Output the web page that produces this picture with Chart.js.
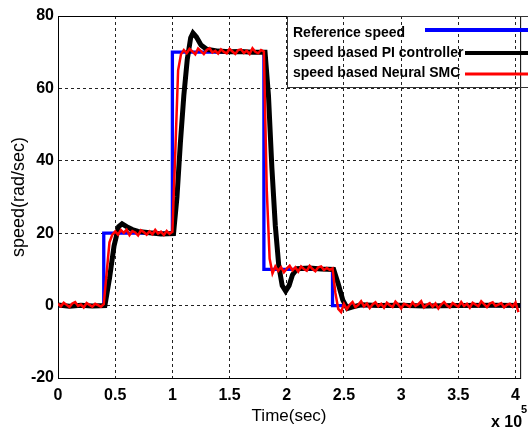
<!DOCTYPE html>
<html>
<head>
<meta charset="utf-8">
<script src="https://cdn.jsdelivr.net/npm/chart.js@4.4.1/dist/chart.umd.min.js"></script>
<style>
  html, body { margin: 0; padding: 0; background: #fff; }
  #wrap { width: 528px; height: 435px; }
</style>
</head>
<body>
<div id="wrap"><canvas id="myChart" width="528" height="435"></canvas></div>
<script>
  // tick labels
  const xTicks = [0, 0.5, 1, 1.5, 2, 2.5, 3, 3.5, 4];
  const yTicks = [-20, 0, 20, 40, 60, 80];

  // reference speed (step profile)
  const refTime = [0, 0.4, 0.4, 1.0, 1.0, 1.8, 1.8, 2.4, 2.4, 4.1];
  const refSpeed = [0, 0, 20, 20, 70, 70, 10, 10, 0, 0];

  // PI controller response
  const piTime = [0, 0.1, 0.2, 0.3, 0.41, 0.45, 0.49, 0.53, 0.56, 0.6, 0.65, 0.7, 0.8, 0.9, 1.01,
    1.04, 1.07, 1.1, 1.13, 1.16, 1.18, 1.21, 1.25, 1.3, 1.4, 1.5, 1.6, 1.7, 1.81,
    1.84, 1.87, 1.9, 1.93, 1.96, 1.99, 2.02, 2.05, 2.09, 2.2, 2.3, 2.41,
    2.45, 2.49, 2.53, 2.57, 2.65, 2.8, 3.0, 3.2, 3.5, 3.8, 4.1];
  const piSpeed = [0.2, -0.2, 0.1, -0.1, 0, 7.5, 16.5, 21.8, 22.6, 21.8, 21, 20.5, 20.1, 19.8, 19.9,
    30, 45, 58, 68, 74, 75.3, 74.2, 72, 70.8, 70.3, 70.1, 70.2, 70, 70,
    58, 38, 22, 11, 5.5, 4, 5.5, 8.5, 10.2, 10.4, 10.1, 10,
    6, 1.5, -0.8, -0.4, 0.2, 0, 0.1, -0.1, 0, 0.1, 0];

  // Neural SMC response, sampled every 0.025
  const smcStep = 0.025;
  const smcSpeed = [
    0.5, -0.2, 0.8, 0.2, -0.4, 0.6, 1.0, -0.1, 0.3, -0.5, 0.7, 0.2, -0.3, 0.5, 0.1, -0.3,
    0.4, 9, 17.5, 19.6, 20.5,
    19.6, 20.9, 20.1, 21.0, 19.5, 20.6, 20.2, 19.4, 20.8, 20.3, 19.6, 20.5, 19.7, 20.9, 19.9, 20.4, 19.5, 20.6, 19.8,
    20.4,
    42, 65, 69.4, 70.6, 69.7, 70.9, 70.2, 69.4, 71.0, 70.3, 69.5, 70.6, 71.1, 69.9, 70.4, 69.6,
    70.8, 70.1, 69.7, 70.9, 70.2, 69.5, 70.6, 70.8, 69.8, 70.4, 69.5, 71.1, 70.1, 69.7, 70.6,
    70.2,
    32, 13, 8.9, 10.8, 9.6, 10.6, 9.2, 10.2, 11.0, 9.7, 10.6, 9.4, 10.8, 10.1, 9.6, 11.0,
    10.1, 9.5, 10.6, 10.8, 9.8, 10.4, 9.9,
    10.3,
    3.5, -0.9, -1.8, 0.5, -1.0, 0.2, 1.0, -0.4, 0.2, 1.2,
    -0.2, 0.6, -0.7, 0.3, 0.9, -0.2, 0.5, -0.6, 0.8, 0.1,
    -0.4, 1.1, 0.3, -0.8, 0.5, 0.2, -0.3, 0.9, -0.1, 0.4,
    1.2, -0.5, 0.2, 0.7, -0.3, 0.6, -0.8, 0.3, 1.0, 0.1,
    -0.5, 0.7, 0.2, -0.3, 1.0, -0.1, 0.5, -0.6, 0.8, 0.3,
    -0.2, 1.2, 0.4, -0.4, 0.6, 0.9, -0.1, 0.3, 0.7, -0.5,
    0.2, 0.5, -0.3, 0.9, -1.8
  ];

  const seriesLabels = ['Reference speed', 'speed based PI controller', 'speed based Neural SMC'];
  const seriesColors = ['#0000ff', '#000000', '#ff0000'];

  const toPoints = (xs, ys) => ys.map((y, i) => ({ x: xs[i], y: y }));

  const data = {
    datasets: [{
      label: seriesLabels[0],
      borderColor: seriesColors[0],
      backgroundColor: seriesColors[0],
      borderWidth: 3.3,
      data: toPoints(refTime, refSpeed),
      order: 3,
    }, {
      label: seriesLabels[1],
      borderColor: seriesColors[1],
      backgroundColor: seriesColors[1],
      borderWidth: 5,
      data: toPoints(piTime, piSpeed),
      order: 2,
    }, {
      label: seriesLabels[2],
      borderColor: seriesColors[2],
      backgroundColor: seriesColors[2],
      borderWidth: 2.5,
      data: smcSpeed.map((y, i) => ({ x: i * smcStep, y: y })),
      order: 1,
    }]
  };

  const tickFont = { family: '"Liberation Sans", Arial, sans-serif', size: 16, weight: 'bold' };
  const gridStyle = { color: '#222', lineWidth: 1, drawTicks: false };
  const borderStyle = { color: '#000', width: 1, dash: [3, 3] };

  // solid box round the plot area
  const frame = {
    id: 'frame',
    beforeDatasetsDraw(chart) {
      const { ctx, chartArea: a } = chart;
      ctx.save();
      ctx.strokeStyle = '#000';
      ctx.lineWidth = 1;
      ctx.strokeRect(a.left + 0.5, a.top + 0.5, a.right - a.left, a.bottom - a.top);
      ctx.restore();
    }
  };

  // matlab-style legend in the upper right + exponent label
  const matlabLegend = {
    id: 'matlabLegend',
    afterDraw(chart) {
      const ctx = chart.ctx;
      ctx.save();
      ctx.strokeStyle = '#333';
      ctx.lineWidth = 1;
      ctx.strokeRect(287.5, 16.5, 260, 71);

      const rows = [33, 53, 73];
      const lineY = [30, 53, 74];
      const lineStart = [425, 465, 465];
      const lineW = [4, 4, 3];
      ctx.font = 'bold 14px "Liberation Sans", Arial, sans-serif';
      ctx.textBaseline = 'middle';
      ctx.fillStyle = '#000';
      chart.data.datasets.forEach((ds, i) => {
        ctx.fillText(ds.label, 293, rows[i]);
        ctx.beginPath();
        ctx.strokeStyle = ds.borderColor;
        ctx.lineWidth = lineW[i];
        ctx.moveTo(lineStart[i], lineY[i]);
        ctx.lineTo(530, lineY[i]);
        ctx.stroke();
      });

      ctx.fillStyle = '#000';
      ctx.textBaseline = 'alphabetic';
      ctx.font = 'bold 16px "Liberation Sans", Arial, sans-serif';
      ctx.fillText('x 10', 491, 427);
      ctx.font = 'bold 11px "Liberation Sans", Arial, sans-serif';
      ctx.fillText('5', 521, 413);
      ctx.restore();
    }
  };

  const config = {
    type: 'line',
    data: data,
    options: {
      responsive: false,
      animation: false,
      devicePixelRatio: 1,
      elements: {
        point: { radius: 0 },
        line: { tension: 0 }
      },
      layout: {
        padding: { top: 16, left: 0, right: 0, bottom: 0 }
      },
      plugins: {
        legend: { display: false },
        tooltip: { enabled: false },
        title: { display: false }
      },
      scales: {
        x: {
          type: 'linear',
          min: 0,
          max: 4.04,
          grid: gridStyle,
          border: borderStyle,
          afterBuildTicks: (scale) => { scale.ticks = xTicks.map(v => ({ value: v })); },
          afterFit: (scale) => { scale.height = 57; },
          ticks: {
            font: tickFont,
            color: '#000',
            padding: 8,
            maxRotation: 0,
            autoSkip: false,
            callback: (v) => String(v)
          },
          title: {
            display: true,
            text: 'Time(sec)',
            color: '#000',
            font: { family: '"Liberation Sans", Arial, sans-serif', size: 17 },
            padding: { top: 0, bottom: 8 }
          }
        },
        y: {
          min: -20,
          max: 80,
          grid: gridStyle,
          border: borderStyle,
          afterBuildTicks: (scale) => { scale.ticks = yTicks.map(v => ({ value: v })); },
          afterFit: (scale) => { scale.width = 58; },
          ticks: {
            font: tickFont,
            color: '#000',
            padding: 4
          },
          title: {
            display: true,
            text: 'speed(rad/sec)',
            color: '#000',
            font: { family: '"Liberation Sans", Arial, sans-serif', size: 18 },
            padding: { top: 8, bottom: 0 }
          }
        }
      }
    },
    plugins: [frame, matlabLegend]
  };

  const myChart = new Chart(
    document.getElementById('myChart'),
    config
  );
</script>
</body>
</html>
